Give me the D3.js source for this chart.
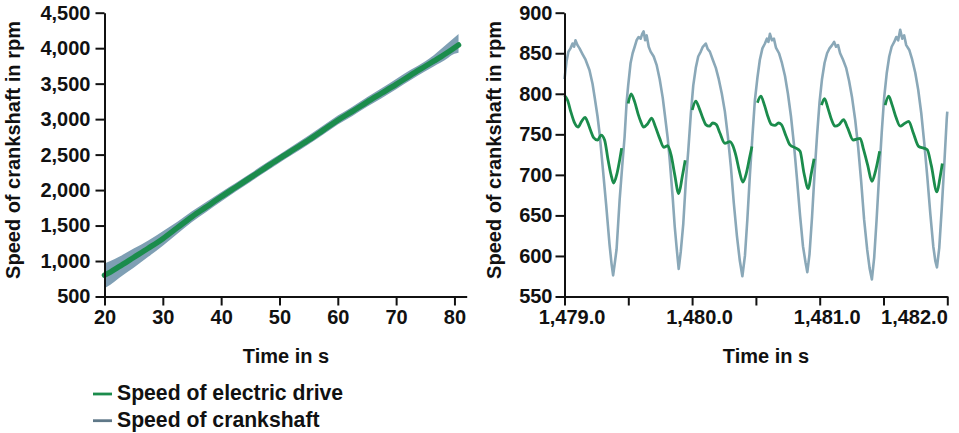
<!DOCTYPE html>
<html>
<head>
<meta charset="utf-8">
<script src="https://cdn.jsdelivr.net/npm/d3@7"></script>
<style>
  html, body { margin: 0; padding: 0; background: #fff; }
  svg { display: block; }
  text { font-family: "Liberation Sans", Arial, Helvetica, sans-serif; font-weight: bold; fill: #111; }
  .axis .domain, .axis .tick line { stroke: #111; stroke-width: 2; }
  .axis text { font-size: 20px; }
</style>
</head>
<body>
<svg id="chart" width="959" height="433"></svg>
<script>
// ---------- Left panel: run-up 20..80 s ----------
const leftTime = [20,21,22.5,25,27.5,30,32.5,35,37.5,40,42.5,45,47.5,50,52.5,55,57.5,60,62.5,65,67.5,70,72.5,75,76.5,77.5,79,80,80.7];
const leftDrive = [800,845,920,1050,1180,1315,1470,1625,1765,1905,2040,2175,2310,2445,2575,2705,2845,2985,3110,3240,3365,3490,3620,3745,3820,3870,3950,4005,4045];
const leftCrankUpper = [965,1000,1060,1175,1290,1420,1555,1700,1835,1970,2100,2235,2370,2500,2635,2770,2910,3050,3175,3310,3435,3565,3695,3815,3905,3975,4080,4150,4200];
const leftCrankLower = [615,665,760,905,1060,1215,1385,1550,1695,1840,1980,2115,2250,2385,2515,2645,2785,2925,3045,3175,3295,3420,3550,3675,3745,3790,3870,3920,3935];
const leftXTicks = [20,30,40,50,60,70,80];
const leftYTicks = [500,1000,1500,2000,2500,3000,3500,4000,4500];

// ---------- Right panel: idle 1479..1482 s ----------
const rightCrankTime = [1479.000,1479.016,1479.031,1479.047,1479.063,1479.075,1479.086,1479.102,1479.118,1479.141,1479.165,1479.196,1479.220,1479.236,1479.259,1479.275,1479.298,1479.326,1479.353,1479.369,1479.381,
1479.393,1479.408,1479.432,1479.452,1479.471,1479.487,1479.499,1479.518,1479.534,1479.550,1479.565,1479.581,1479.597,1479.609,1479.620,
1479.632,1479.644,1479.660,1479.675,1479.699,1479.723,1479.746,1479.770,1479.785,1479.809,1479.825,1479.848,1479.864,1479.880,1479.895,
1479.911,1479.931,1479.950,1479.970,1479.990,1480.009,1480.029,1480.048,1480.068,1480.084,1480.107,
1480.123,1480.139,1480.162,1480.186,1480.209,1480.233,1480.257,1480.280,1480.304,1480.327,1480.351,1480.374,1480.394,
1480.414,1480.433,1480.453,1480.473,1480.492,1480.512,1480.531,1480.551,1480.571,1480.586,1480.598,1480.610,
1480.626,1480.641,1480.657,1480.681,1480.704,1480.728,1480.751,1480.775,1480.798,1480.822,1480.846,1480.869,1480.889,1480.903,
1480.920,1480.940,1480.959,1480.979,1480.999,1481.018,1481.038,1481.058,1481.077,1481.097,1481.113,
1481.128,1481.144,1481.160,1481.183,1481.207,1481.230,1481.254,1481.278,1481.301,1481.325,1481.348,1481.372,1481.391,1481.409,
1481.427,1481.446,1481.466,1481.486,1481.505,1481.525,1481.545,1481.564,1481.584,1481.600,1481.615,1481.631,
1481.647,1481.662,1481.678,1481.702,1481.725,1481.749,1481.772,1481.796,1481.819,1481.843,1481.867,1481.890,1481.906,1481.919,
1481.937,1481.957,1481.977,1481.996,1482.000];
const rightCrank = [818,840,852,856,862,858,866,860,856,849,842,829,812,796,772,751,712,664,614,590,576,
590,608,669,710,747,790,810,838,850,858,866,870,868,874,877,
866,872,858,852,846,835,818,795,776,745,718,672,636,608,584,
605,640,690,730,775,810,832,846,852,858,862,
855,852,842,832,818,800,778,748,710,665,625,594,575,
600,645,700,748,792,820,842,856,862,868,864,874,
866,868,857,850,838,822,800,772,738,695,650,612,592,580,
602,648,700,748,790,818,838,850,856,860,864,
858,860,850,842,832,816,795,768,735,692,645,608,585,571,
598,645,700,752,795,825,846,858,864,870,866,879,
868,872,860,854,842,826,805,776,740,698,652,612,594,586,
610,660,715,770,778];

const rightDriveTime = [1479.000,1479.024,1479.051,1479.079,1479.106,1479.134,1479.161,1479.181,1479.204,1479.228,1479.259,1479.287,1479.314,1479.342,1479.365,1479.385,1479.412,1479.432,1479.448,1479.470,
1479.499,1479.522,1479.550,1479.577,1479.597,1479.620,1479.652,1479.683,1479.711,1479.746,1479.778,1479.809,1479.836,1479.864,1479.895,1479.923,1479.946,1479.975,
1480.001,1480.029,1480.056,1480.084,1480.107,1480.135,1480.162,1480.190,1480.217,1480.257,1480.296,1480.319,1480.343,1480.370,1480.398,1480.425,1480.449,1480.469,1480.490,
1480.512,1480.539,1480.567,1480.594,1480.622,1480.649,1480.677,1480.700,1480.736,1480.767,1480.814,1480.846,1480.877,1480.911,1480.932,1480.956,1480.985,
1481.014,1481.038,1481.065,1481.093,1481.120,1481.152,1481.187,1481.219,1481.262,1481.317,1481.344,1481.376,1481.409,1481.438,1481.470,1481.490,
1481.513,1481.541,1481.568,1481.600,1481.631,1481.662,1481.698,1481.733,1481.776,1481.815,1481.843,1481.874,1481.919,1481.941,1481.961];
const rightDrive = [798,792,777,764,759,766,771,765,755,746,743,749,743,718,700,690,702,718,733,null,
788,800,790,775,766,759,763,770,760,745,734,736,724,700,677,698,718,null,
780,791,782,770,762,760,764,762,752,739,741,736,724,705,691,702,720,735,null,
789,797,786,772,762,761,764,762,748,737,733,729,702,683,700,720,null,
786,794,782,768,760,762,768,758,743,745,731,712,692,705,729,null,
786,797,786,770,760,763,766,752,735,733,731,712,679,695,714];
const rightXTicks = [1479,1479.5,1480,1480.5,1481,1481.5,1482];
const rightXLabels = ["1,479.0","","1,480.0","","1,481.0","","1,482.0"];
const rightYTicks = [550,600,650,700,750,800,850,900];

const seriesNames = ["Speed of electric drive", "Speed of crankshaft"];
const yTitle = "Speed of crankshaft in rpm";
const xTitle = "Time in s";

// ---------- styling ----------
const GREEN = "#1b8c4c";
const BAND = "#7f9fb4";
const CRANK_LINE = "#8aa8b8";
const LEGEND_CRANK = "#5f7888";

const svg = d3.select("#chart");

// scales
const xL = d3.scaleLinear().domain([20, 82.1]).range([104.5, 466.7]);
const yL = d3.scaleLinear().domain([500, 4500]).range([296.5, 12.7]);
const xR = d3.scaleLinear().domain([1479, 1482]).range([564.5, 947.3]);
const yR = d3.scaleLinear().domain([550, 900]).range([296.5, 12.7]);

// ---------- left marks ----------
const leftData = leftTime.map((t, i) => ({ t, drive: leftDrive[i], up: leftCrankUpper[i], lo: leftCrankLower[i] }));
svg.append("path")
  .datum(leftData)
  .attr("fill", BAND)
  .attr("d", d3.area().x(d => xL(d.t)).y0(d => yL(d.lo)).y1(d => yL(d.up)).curve(d3.curveMonotoneX));
svg.append("path")
  .datum(leftData)
  .attr("fill", "none")
  .attr("stroke", GREEN)
  .attr("stroke-width", 5.5)
  .attr("stroke-linecap", "round")
  .attr("d", d3.line().x(d => xL(d.t)).y(d => yL(d.drive)).curve(d3.curveMonotoneX));

// ---------- right marks ----------
const crankData = rightCrankTime.map((t, i) => ({ t, v: rightCrank[i] }));
svg.append("path")
  .datum(crankData)
  .attr("fill", "none")
  .attr("stroke", CRANK_LINE)
  .attr("stroke-width", 2.6)
  .attr("stroke-linejoin", "round")
  .attr("d", d3.line().x(d => xR(d.t)).y(d => yR(d.v)));

const driveData = rightDriveTime.map((t, i) => ({ t, v: rightDrive[i] }));
svg.append("path")
  .datum(driveData)
  .attr("fill", "none")
  .attr("stroke", GREEN)
  .attr("stroke-width", 2.8)
  .attr("stroke-linejoin", "round")
  .attr("d", d3.line().defined(d => d.v !== null).x(d => xR(d.t)).y(d => yR(d.v)).curve(d3.curveMonotoneX));

// ---------- axes ----------
svg.append("g").attr("class", "axis")
  .attr("transform", `translate(${xL.range()[0]},0)`)
  .call(d3.axisLeft(yL).tickValues(leftYTicks).tickFormat(d3.format(",")).tickSize(9).tickSizeOuter(0).tickPadding(5));
svg.append("g").attr("class", "axis")
  .attr("transform", `translate(0,${yL.range()[0]})`)
  .call(d3.axisBottom(xL).tickValues(leftXTicks).tickFormat(d3.format("d")).tickSize(9).tickSizeOuter(0).tickPadding(4));

svg.append("g").attr("class", "axis")
  .attr("transform", `translate(${xR.range()[0]},0)`)
  .call(d3.axisLeft(yR).tickValues(rightYTicks).tickFormat(d3.format("d")).tickSize(9).tickSizeOuter(0).tickPadding(3));
const rx = svg.append("g").attr("class", "axis")
  .attr("transform", `translate(0,${yR.range()[0]})`)
  .call(d3.axisBottom(xR).tickValues(rightXTicks).tickFormat((d, i) => rightXLabels[i]).tickSize(9).tickSizeOuter(0).tickPadding(4));
rx.selectAll(".tick text")
  .attr("text-anchor", (d, i) => i === rightXTicks.length - 1 ? "end" : "middle")
  .attr("dx", (d, i) => i === rightXTicks.length - 1 ? 0 : 7);

svg.selectAll(".axis text").attr("fill", "#111").style("font-size", "20px");

// ---------- axis titles ----------
svg.append("text").attr("transform", "translate(20,150) rotate(-90)")
  .attr("text-anchor", "middle").style("font-size", "20px").text(yTitle);
svg.append("text").attr("transform", "translate(501,150) rotate(-90)")
  .attr("text-anchor", "middle").style("font-size", "20px").text(yTitle);
svg.append("text").attr("x", 286).attr("y", 363)
  .attr("text-anchor", "middle").style("font-size", "20px").text(xTitle);
svg.append("text").attr("x", 766).attr("y", 363)
  .attr("text-anchor", "middle").style("font-size", "20px").text(xTitle);

// ---------- legend ----------
const legendColors = [GREEN, LEGEND_CRANK];
const lg = svg.append("g").attr("transform", "translate(93,394)");
seriesNames.forEach((name, i) => {
  const row = lg.append("g").attr("transform", `translate(0,${i * 26.7})`);
  row.append("line").attr("x1", 0).attr("x2", 19).attr("y1", 0).attr("y2", 0)
    .attr("stroke", legendColors[i]).attr("stroke-width", 2.8);
  row.append("text").attr("x", 24).attr("y", 6).style("font-size", "21.2px").text(name);
});
</script>
</body>
</html>
